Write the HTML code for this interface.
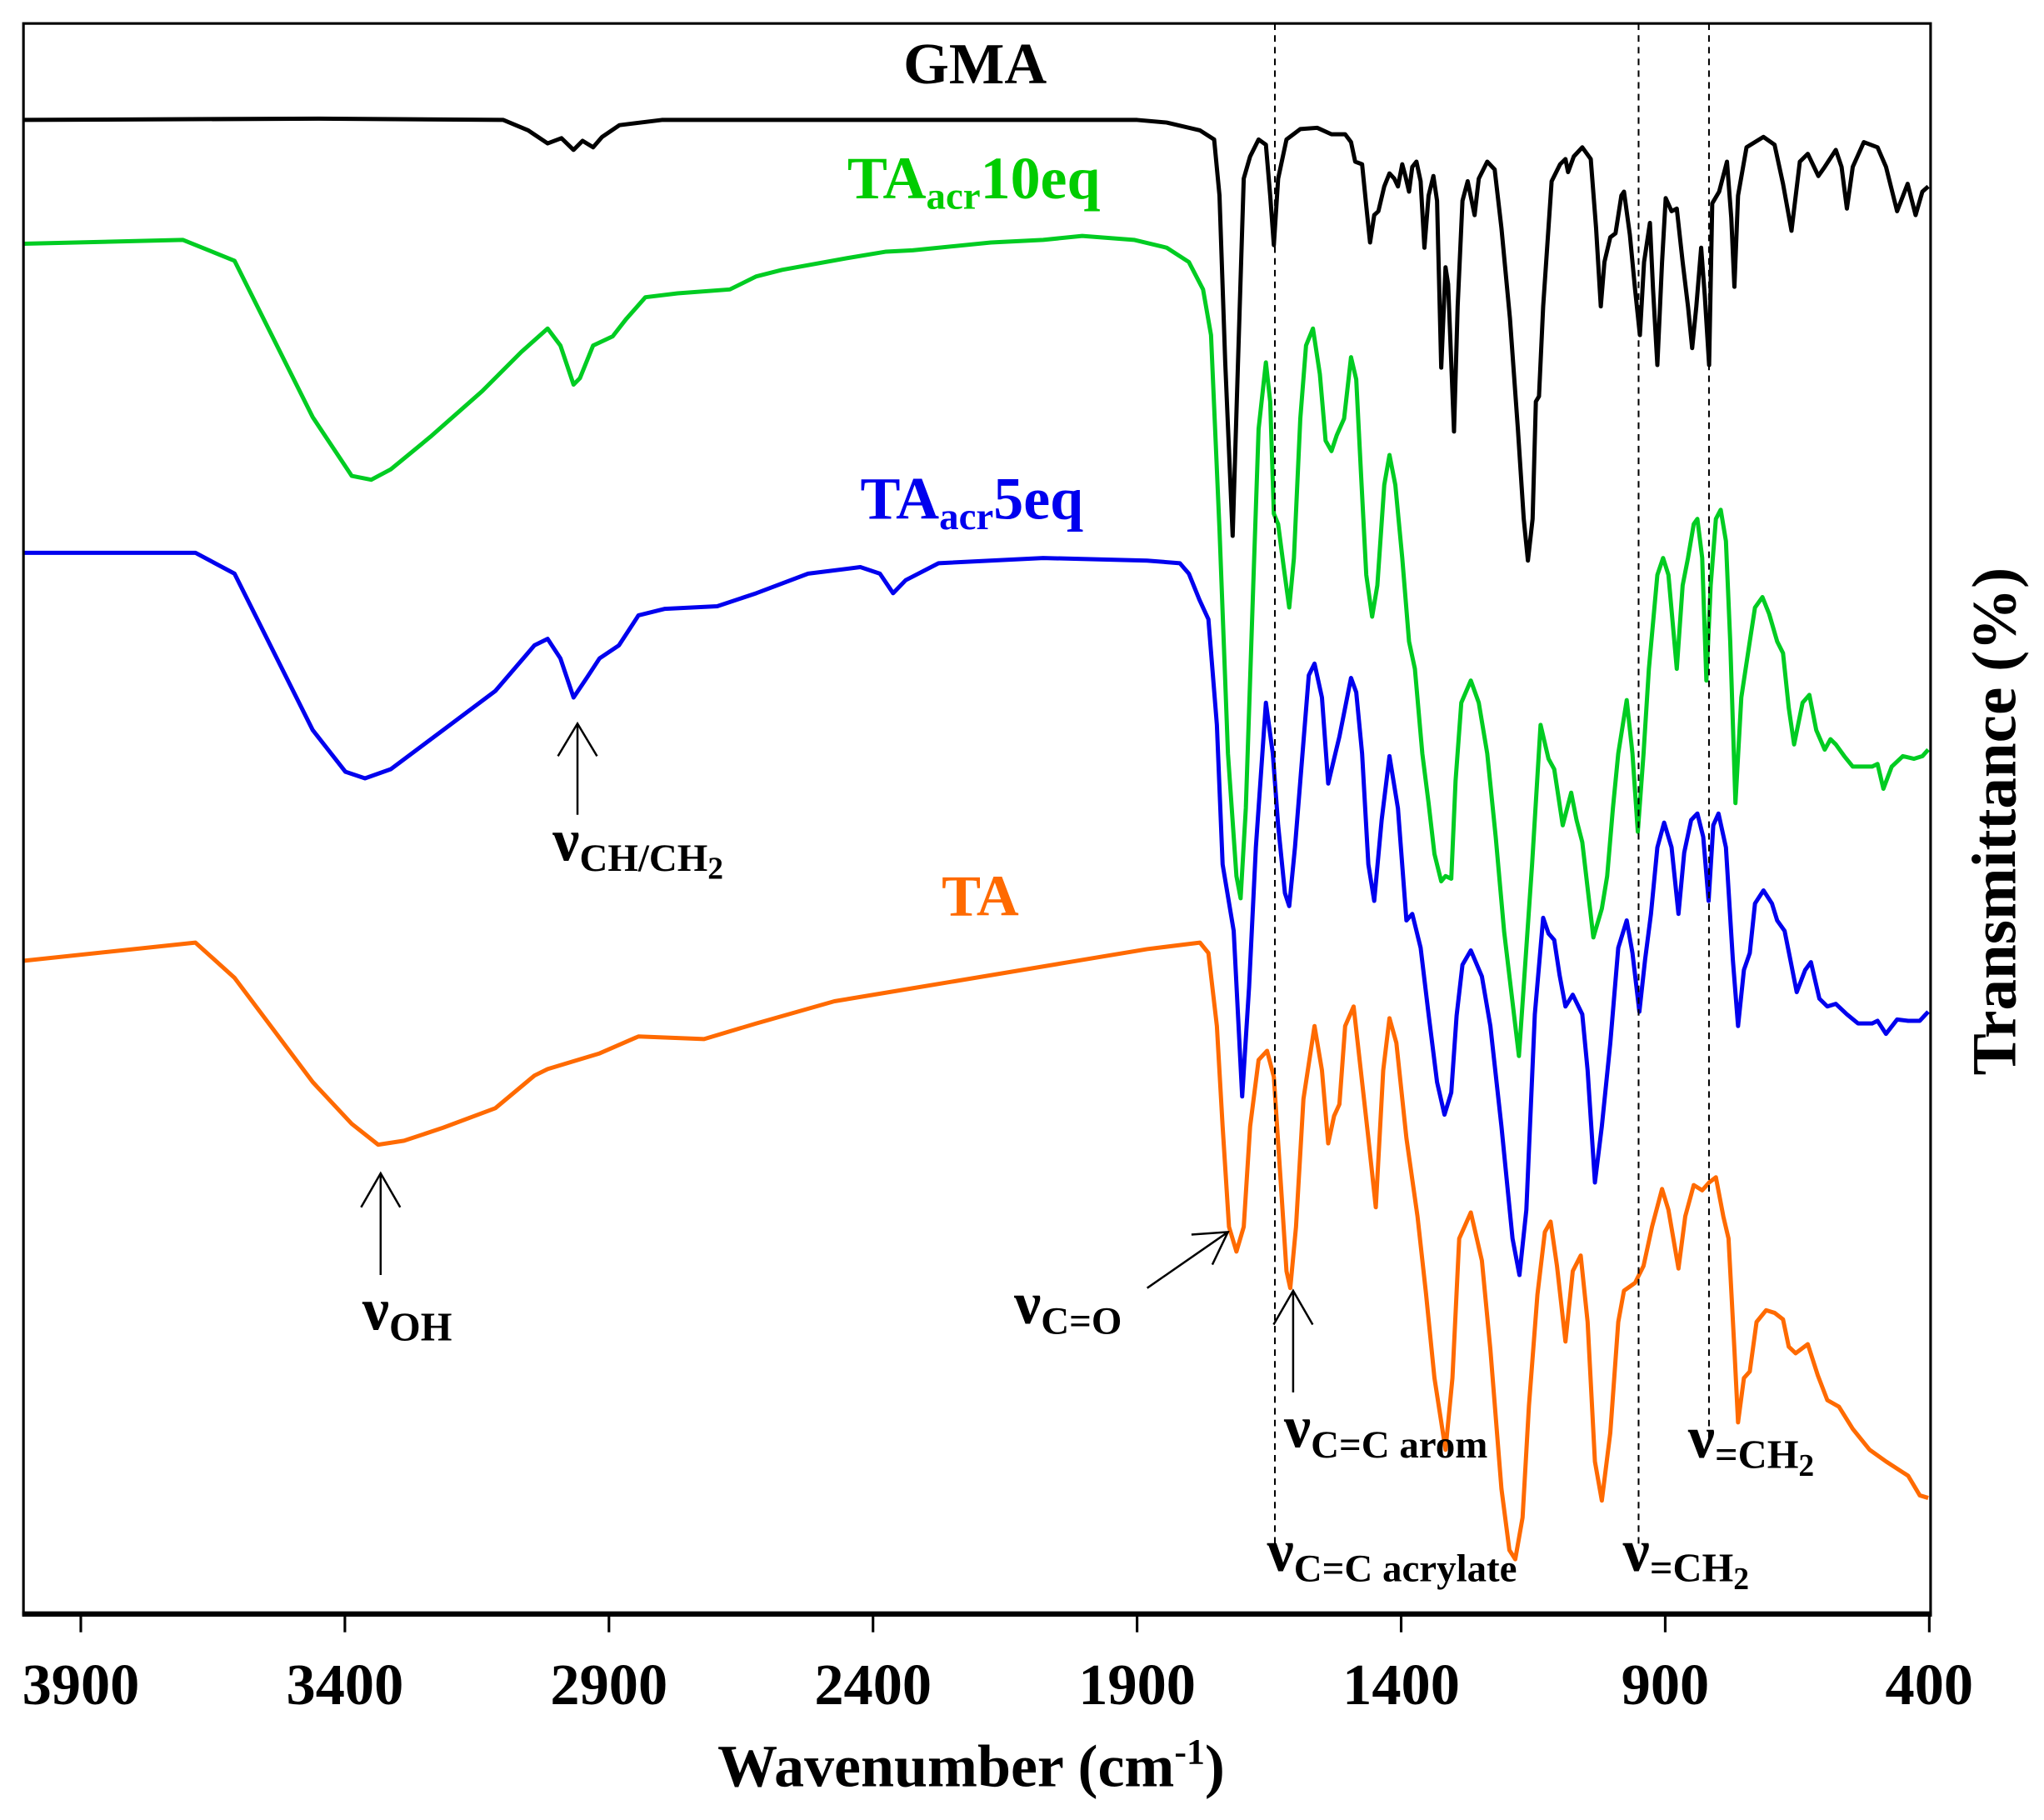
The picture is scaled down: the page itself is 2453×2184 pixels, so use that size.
<!DOCTYPE html>
<html><head><meta charset="utf-8"><style>
html,body{margin:0;padding:0;background:#fff;}
svg{display:block;}
text{font-family:"Liberation Serif",serif;font-weight:bold;}
</style></head><body>
<svg id="chart" width="2453" height="2184" viewBox="0 0 1568 1396" preserveAspectRatio="none" xmlns="http://www.w3.org/2000/svg">
<g id="series"></g>
<g id="axes"></g>
<g>
<line x1="978" y1="18" x2="978" y2="1185" stroke="#000" stroke-width="1.3" stroke-dasharray="5,4"/>
<line x1="1257" y1="18" x2="1257" y2="1185" stroke="#000" stroke-width="1.3" stroke-dasharray="5,4"/>
<line x1="1311" y1="18" x2="1311" y2="1104" stroke="#000" stroke-width="1.3" stroke-dasharray="5,4"/>
<text x="748" y="64" font-size="45" text-anchor="middle" fill="#000">GMA</text>
<text x="650" y="152" font-size="46" fill="#00cc00">TA<tspan font-size="30" dy="8">acr</tspan><tspan dy="-8">10eq</tspan></text>
<text x="660" y="398" font-size="46" fill="#0000ee">TA<tspan font-size="30" dy="8">acr</tspan><tspan dy="-8">5eq</tspan></text>
<text x="752" y="702" font-size="45" text-anchor="middle" fill="#ff6a00">TA</text>
<text x="424" y="660" font-size="46">ν<tspan font-size="30" dy="8">CH/CH</tspan><tspan font-size="24" dy="6">2</tspan></text>
<text x="278" y="1020" font-size="46">ν<tspan font-size="31" dy="8">OH</tspan></text>
<text x="778" y="1015" font-size="46">ν<tspan font-size="30" dy="8">C=O</tspan></text>
<text x="985" y="1110" font-size="46">ν<tspan font-size="30" dy="8">C=C arom</tspan></text>
<text x="972" y="1205" font-size="46">ν<tspan font-size="30" dy="8">C=C acrylate</tspan></text>
<text x="1295" y="1118" font-size="46">ν<tspan font-size="31" dy="8">=CH</tspan><tspan font-size="24" dy="6">2</tspan></text>
<text x="1245" y="1205" font-size="46">ν<tspan font-size="31" dy="8">=CH</tspan><tspan font-size="24" dy="6">2</tspan></text>
<g stroke="#000" stroke-width="1.6" fill="none">
<path d="M443 625 L443 555 M428 580 L443 555 L458 580"/>
<path d="M292 978 L292 900 M277 926 L292 900 L307 926"/>
<path d="M880 988 L942 945 M914 947 L942 945 L930 970"/>
<path d="M992 1068 L992 990 M977 1016 L992 990 L1007 1016"/>
</g>
</g>
<text x="745" y="1370" font-size="46" text-anchor="middle">Wavenumber (cm<tspan font-size="28" dy="-17">-1</tspan><tspan dy="17">)</tspan></text>
<text transform="translate(1546,630) rotate(-90)" font-size="48" text-anchor="middle">Transmittance (%)</text>
</svg>
<script>
const xTicks=[3900,3400,2900,2400,1900,1400,900,400];
const xTickLabels=["3900","3400","2900","2400","1900","1400","900","400"];
const gmaWn=[4009,3448,3100,3053,3016,2990,2967,2950,2930,2913,2880,2800,1900,1844,1781,1754,1744,1733,1719,1709,1698,1686,1670,1656,1648,1641,1633,1617,1591,1559,1532,1506,1495,1487,1474,1466,1459,1451,1443,1432,1422,1413,1406,1398,1392,1385,1379,1371,1363,1356,1348,1339,1332,1324,1316,1311,1300,1293,1284,1274,1261,1253,1237,1223,1210,1194,1179,1168,1160,1151,1145,1139,1131,1115,1099,1089,1084,1073,1057,1041,1031,1022,1015,1004,994,983,978,967,957,948,940,929,923,915,906,899,888,878,867,857,849,841,832,825,817,811,798,783,775,769,762,746,714,693,677,661,645,630,610,598,577,566,556,545,524,498,482,461,441,426,413,402];
const gmaT=[114.6,114.7,114.6,113.8,112.8,113.2,112.3,113.0,112.5,113.3,114.2,114.6,114.6,114.4,113.8,113.1,108.8,96.0,82.7,96.0,110.1,111.8,113.1,112.7,108.8,105.0,110.1,113.1,113.9,114.0,113.5,113.5,112.9,111.4,111.2,108.0,105.2,107.3,107.6,109.5,110.5,110.1,109.5,111.2,110.3,109.1,111.0,111.4,109.9,104.8,108.8,110.3,108.4,95.6,103.3,102.0,90.7,100.3,108.4,109.9,107.3,110.1,111.4,110.8,106.3,99.4,90.9,84.0,80.8,84.0,93.0,93.4,100.3,109.9,111.2,111.6,110.6,111.8,112.5,111.6,106.3,100.3,103.7,105.6,105.9,108.8,109.1,105.8,101.6,98.1,103.7,106.7,101.6,95.8,103.7,108.6,107.6,107.8,103.7,100.3,97.1,100.3,104.8,101.1,95.8,108.2,109.1,111.4,107.1,101.8,108.8,112.5,113.3,112.7,109.7,106.1,111.4,112.0,110.3,111.0,112.3,111.0,107.8,111.0,112.9,112.5,111.0,107.6,109.7,107.3,109.1,109.5];
const ta10Wn=[4009,3707,3609,3535,3461,3387,3350,3313,3238,3140,3066,3016,2992,2967,2955,2930,2893,2868,2831,2770,2671,2621,2572,2449,2375,2325,2177,2078,2004,1906,1844,1802,1775,1760,1744,1728,1712,1704,1694,1680,1670,1656,1648,1641,1633,1622,1612,1603,1591,1580,1567,1554,1543,1532,1522,1508,1495,1485,1476,1466,1455,1445,1432,1422,1411,1398,1385,1374,1360,1348,1337,1324,1316,1305,1297,1286,1268,1253,1237,1221,1205,1177,1152,1136,1121,1110,1094,1078,1068,1057,1036,1020,1010,999,989,973,962,952,941,931,915,904,894,878,867,857,846,839,830,822,814,804,795,785,777,767,756,740,730,716,703,688,677,666,656,640,627,614,598,587,577,561,545,508,498,487,471,450,429,413,402];
const ta10T=[105.1,105.4,103.8,97.8,91.8,87.3,87.0,87.8,90.3,93.8,96.8,98.6,97.3,94.3,94.8,97.3,98.0,99.3,101.0,101.3,101.6,102.6,103.1,104.0,104.5,104.6,105.2,105.4,105.7,105.4,104.8,103.7,101.6,98.1,83.2,66.0,56.6,54.9,61.8,78.9,90.9,96.0,93.0,84.4,83.6,80.2,77.2,81.0,91.7,97.3,98.6,95.1,90.0,89.2,90.4,91.7,96.4,94.7,87.4,79.7,76.5,78.9,86.6,88.9,86.6,81.0,74.6,72.5,66.0,62.2,58.3,56.2,56.6,56.4,63.9,69.9,71.6,69.9,66.0,59.6,52.3,42.8,57.5,68.2,65.6,64.8,60.5,63.0,60.9,59.2,51.9,54.1,56.6,61.8,66.0,70.1,66.0,60.0,66.0,72.5,79.7,81.0,79.7,72.5,78.9,81.0,83.6,84.0,81.0,71.6,78.9,84.0,84.7,82.3,74.6,62.2,70.3,74.6,77.2,78.0,76.7,74.6,73.7,69.5,66.7,69.9,70.5,67.8,66.3,67.1,66.7,65.8,65.0,65.0,65.2,63.3,65.0,65.8,65.6,65.8,66.3];
const ta5Wn=[4009,3683,3609,3535,3461,3399,3362,3313,3214,3115,3041,3016,2992,2967,2942,2918,2881,2844,2794,2695,2621,2523,2424,2387,2362,2338,2276,2078,1881,1819,1802,1782,1765,1749,1738,1717,1701,1688,1675,1656,1643,1633,1620,1612,1601,1591,1575,1564,1550,1538,1527,1517,1495,1485,1474,1462,1451,1437,1422,1406,1390,1379,1363,1348,1332,1318,1305,1295,1284,1268,1247,1231,1210,1189,1176,1163,1147,1131,1121,1110,1100,1089,1075,1057,1047,1033,1020,1004,989,973,962,949,938,927,915,902,888,875,864,851,839,828,818,809,799,785,772,762,751,740,730,714,698,688,674,663,651,635,624,608,593,577,556,535,508,498,482,461,440,418,402];
const ta5T=[81.4,81.4,79.8,73.8,67.8,64.6,64.1,64.8,67.8,70.8,74.3,74.8,73.3,70.3,71.8,73.3,74.3,76.6,77.1,77.3,78.3,79.8,80.3,79.8,78.3,79.3,80.6,81.0,80.8,80.6,79.8,77.8,76.3,68.2,57.5,52.4,39.7,48.1,58.8,69.9,66.0,60.5,55.3,54.3,58.8,63.9,72.0,72.9,70.3,63.7,65.6,67.3,71.8,70.7,66.0,57.5,54.7,60.9,65.8,61.8,53.2,53.7,51.1,46.0,40.8,38.3,40.0,45.9,49.8,50.9,48.9,45.1,37.4,28.8,26.0,31.0,46.0,53.4,52.2,51.7,49.0,46.6,47.5,46.0,41.7,33.1,37.4,43.8,51.1,53.2,50.7,46.2,50.2,53.7,58.8,60.7,58.8,53.7,58.4,60.9,61.4,59.6,54.7,60.5,61.4,58.8,50.2,45.1,49.4,50.7,54.5,55.5,54.5,53.2,52.4,50.2,47.7,49.4,50.0,47.2,46.6,46.8,46.0,45.3,45.3,45.5,44.5,45.6,45.5,45.5,46.2];
const taWn=[4009,3683,3609,3535,3461,3387,3337,3288,3214,3115,3041,3016,2918,2844,2720,2621,2473,2325,2177,2029,1881,1781,1765,1749,1738,1726,1712,1698,1686,1670,1654,1641,1628,1617,1610,1599,1585,1564,1550,1538,1527,1517,1506,1490,1474,1462,1448,1434,1422,1409,1390,1369,1353,1337,1316,1303,1290,1268,1247,1231,1210,1195,1184,1170,1158,1142,1128,1117,1105,1089,1075,1060,1047,1033,1020,1004,989,978,957,941,925,906,894,875,862,846,830,817,804,790,780,769,762,751,740,727,709,693,677,666,653,630,611,593,571,545,513,482,440,418,402];
const taT=[50.1,51.5,48.8,44.8,40.8,37.6,36.0,36.3,37.3,38.8,41.3,41.8,43.0,44.3,44.1,45.3,47.0,48.0,49.0,50.0,51.0,51.5,50.7,45.1,37.4,29.7,27.8,29.7,37.4,42.5,43.2,41.2,33.1,26.3,25.0,29.7,39.5,45.1,41.7,36.1,38.2,39.1,45.1,46.6,40.8,36.5,31.2,41.7,45.7,43.8,36.5,30.5,24.6,18.1,12.6,18.1,28.8,30.8,27.1,20.3,9.6,4.9,4.2,7.4,16.0,24.5,29.3,30.1,26.7,20.9,26.3,27.5,22.4,11.7,8.7,13.9,22.4,24.8,25.4,26.7,29.7,32.6,31.0,26.5,30.5,32.9,32.5,33.1,33.5,30.5,28.8,20.3,14.7,18.1,18.6,22.4,23.3,23.1,22.6,20.5,20.0,20.7,18.3,16.4,15.9,14.2,12.6,11.7,10.6,9.1,8.9];

const NS="http://www.w3.org/2000/svg";
function xScale(w){return 62+(3900-w)*0.405143;}
function yScale(t){return 1238-t*10;}
const seriesG=document.getElementById('series');
const axesG=document.getElementById('axes');
function addLine(wn,vals,color,name){
  const p=document.createElementNS(NS,'path');
  let d='';
  for(let i=0;i<wn.length;i++){d+=(i?'L':'M')+xScale(wn[i]).toFixed(1)+' '+yScale(vals[i]).toFixed(1);}
  p.setAttribute('d',d);
  p.setAttribute('fill','none');
  p.setAttribute('stroke',color);
  p.setAttribute('stroke-width','3.2');
  p.setAttribute('stroke-linejoin','round');
  
  
  seriesG.appendChild(p);
}
addLine(gmaWn,gmaT,'#000','series-gma');
addLine(ta10Wn,ta10T,'#00cc22','series-taacr10eq');
addLine(ta5Wn,ta5T,'#0000ee','series-taacr5eq');
addLine(taWn,taT,'#ff6a00','series-ta');

const frame=document.createElementNS(NS,'rect');
frame.setAttribute('x','18');frame.setAttribute('y','18');frame.setAttribute('width','1463');frame.setAttribute('height','1220');
frame.setAttribute('fill','none');frame.setAttribute('stroke','#000');frame.setAttribute('stroke-width','2');


axesG.appendChild(frame);
const base=document.createElementNS(NS,'line');
base.setAttribute('x1','17');base.setAttribute('x2','1482');base.setAttribute('y1','1238');base.setAttribute('y2','1238');
base.setAttribute('stroke','#000');base.setAttribute('stroke-width','4');


axesG.appendChild(base);
for(let i=0;i<xTicks.length;i++){
  const x=xScale(xTicks[i]);
  const t=document.createElementNS(NS,'line');
  t.setAttribute('x1',x);t.setAttribute('x2',x);t.setAttribute('y1','1238');t.setAttribute('y2','1252');
  t.setAttribute('stroke','#000');t.setAttribute('stroke-width','2');
  
  
  axesG.appendChild(t);
  const l=document.createElementNS(NS,'text');
  l.setAttribute('x',x);l.setAttribute('y','1307');l.setAttribute('font-size','45');l.setAttribute('text-anchor','middle');
  l.textContent=xTickLabels[i];
  
  
  axesG.appendChild(l);
}
</script>
</body></html>
